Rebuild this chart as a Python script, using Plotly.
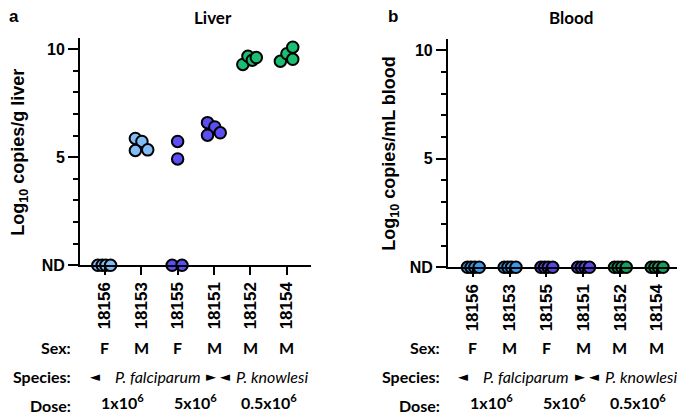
import plotly.graph_objects as go

# mice (x categories) and annotations below the axis
mice = ["18156", "18153", "18155", "18151", "18152", "18154"]
sex = ["F", "M", "F", "M", "M", "M"]
doses = ["1x10<sup>6</sup>", "5x10<sup>6</sup>", "0.5x10<sup>6</sup>"]
dose_pos = [0.5, 2.5, 4.5]

# log10 copies per mouse (0 = ND)
liver_vals = [
    [0, 0, 0, 0],
    [5.87, 5.73, 5.31, 5.34],
    [5.73, 4.92, 0, 0],
    [6.60, 6.40, 6.02, 6.13],
    [9.29, 9.67, 9.49, 9.61],
    [9.44, 9.79, 10.09, 9.53],
]
liver_jitter = [
    [-0.19, -0.07, 0.03, 0.16],
    [-0.16, 0.02, -0.16, 0.18],
    [0.0, 0.0, -0.15, 0.12],
    [-0.18, 0.02, -0.18, 0.17],
    [-0.21, -0.07, 0.05, 0.16],
    [-0.18, 0.0, 0.16, 0.16],
]
blood_vals = [[0, 0, 0, 0] for _ in mice]
blood_jitter = [[-0.15, -0.05, 0.05, 0.17] for _ in mice]

liver_colors = ["#80bcf5", "#80bcf5", "#5b4ef2", "#5b4ef2", "#19bf72", "#19bf72"]
blood_colors = ["#3a9bea", "#3a9bea", "#5a45e4", "#5a45e4", "#16a060", "#16a060"]

AX_FONT = "Liberation Sans"
TXT_FONT = "Lato"

fig = go.Figure()


def add_points(vals, jitter, colors, xa, ya):
    for i, m in enumerate(mice):
        fig.add_trace(go.Scatter(
            x=[i + j for j in jitter[i]],
            y=vals[i],
            mode="markers",
            marker=dict(size=11.5, color=colors[i], line=dict(color="black", width=2)),
            cliponaxis=False,
            showlegend=False,
            xaxis=xa, yaxis=ya,
            hovertemplate=m + ": %{y}<extra></extra>",
        ))


add_points(liver_vals, liver_jitter, liver_colors, "x", "y")
add_points(blood_vals, blood_jitter, blood_colors, "x2", "y2")

xcommon = dict(
    range=[-0.68, 5.66],
    tickmode="array",
    tickvals=list(range(len(mice))),
    ticktext=["<b>%s</b>" % m for m in mice],
    tickangle=-90,
    ticks="outside", ticklen=8, tickwidth=2, tickcolor="black",
    showline=True, linewidth=2, linecolor="black",
    showgrid=False, zeroline=False,
    tickfont=dict(family=AX_FONT, size=17, color="black"),
)
ycommon = dict(
    range=[0, 10.5],
    tickmode="array",
    tickvals=[0, 5, 10],
    ticktext=["<b>ND</b>", "<b>5</b>", "<b>10</b>"],
    ticks="outside", ticklen=10, tickwidth=2, tickcolor="black",
    minor=dict(dtick=1, ticks="outside", ticklen=5, tickwidth=2, tickcolor="black"),
    showline=True, linewidth=2, linecolor="black",
    showgrid=False, zeroline=False,
    tickfont=dict(family=AX_FONT, size=16, color="black"),
)

fig.update_layout(
    width=685, height=415,
    margin=dict(l=0, r=0, t=0, b=0),
    plot_bgcolor="white", paper_bgcolor="white",
    xaxis=dict(domain=[0.1051, 0.4423], anchor="y", **xcommon),
    yaxis=dict(domain=[0.3663, 0.9253], anchor="x", **ycommon),
    xaxis2=dict(domain=[0.6423, 0.9825], anchor="y2", **xcommon),
    yaxis2=dict(domain=[0.3614, 0.9229], anchor="x2", **ycommon),
)

ann = []
bold_ax = dict(family=AX_FONT, size=18, color="black")
txt_b = dict(family=TXT_FONT, size=16, color="black")
txt_i = dict(family=TXT_FONT, size=16, color="black")
arrow_f = dict(family="DejaVu Sans", size=13, color="black")

panels = [
    dict(xref="x", letter="a", lx=0.009, title="Liver", tx=0.2993,
         ytitle="Log<sub>10</sub> copies/g liver", yx=0.0175, yy=0.6458, lab_x=0.095),
    dict(xref="x2", letter="b", lx=0.562, title="Blood", tx=0.822,
         ytitle="Log<sub>10</sub> copies/mL blood", yx=0.559, yy=0.643, lab_x=0.634),
]
for p in panels:
    ann.append(dict(text="<b>%s</b>" % p["letter"], x=p["lx"], y=0.978, xref="paper", yref="paper",
                    xanchor="center", yanchor="middle", showarrow=False,
                    font=dict(family=AX_FONT, size=17, color="black")))
    ann.append(dict(text="<b>%s</b>" % p["title"], x=p["tx"], y=0.976, xref="paper", yref="paper",
                    xanchor="center", yanchor="middle", showarrow=False,
                    font=dict(family=TXT_FONT, size=17, color="black")))
    ann.append(dict(text="<b>%s</b>" % p["ytitle"], x=p["yx"], y=p["yy"], xref="paper", yref="paper",
                    xanchor="center", yanchor="middle", textangle=-90, showarrow=False,
                    font=bold_ax))
    for row, yy in [("Sex:", 0.1639), ("Species:", 0.0916), ("Dose:", 0.022)]:
        ann.append(dict(text="<b>%s</b>" % row, x=p["lab_x"], y=yy, xref="paper", yref="paper",
                        xanchor="right", yanchor="middle", showarrow=False, font=txt_b))
    for i, s in enumerate(sex):
        ann.append(dict(text="<b>%s</b>" % s, x=i, y=0.1639, xref=p["xref"], yref="paper",
                        xanchor="center", yanchor="middle", showarrow=False, font=txt_b))
    # species spans with arrows
    for txt, tx, ax_l, ax_r in [("P. falciparum", 1.45, -0.26, 2.92),
                                ("P. knowlesi", 4.58, 3.3, 5.87)]:
        ann.append(dict(text="<i>%s</i>" % txt, x=tx, y=0.0916, xref=p["xref"], yref="paper",
                        xanchor="center", yanchor="middle", showarrow=False, font=txt_i))
        ann.append(dict(text="◄", x=ax_l, y=0.0916, xref=p["xref"], yref="paper",
                        xanchor="center", yanchor="middle", showarrow=False, font=arrow_f))
        ann.append(dict(text="►", x=ax_r, y=0.0916, xref=p["xref"], yref="paper",
                        xanchor="center", yanchor="middle", showarrow=False, font=arrow_f))
    for d, dx in zip(doses, dose_pos):
        ann.append(dict(text="<b>%s</b>" % d, x=dx, y=0.0, xref=p["xref"], yref="paper",
                        xanchor="center", yanchor="bottom", showarrow=False, font=txt_b))

fig.update_layout(annotations=ann)

fig.write_html("out.html")
